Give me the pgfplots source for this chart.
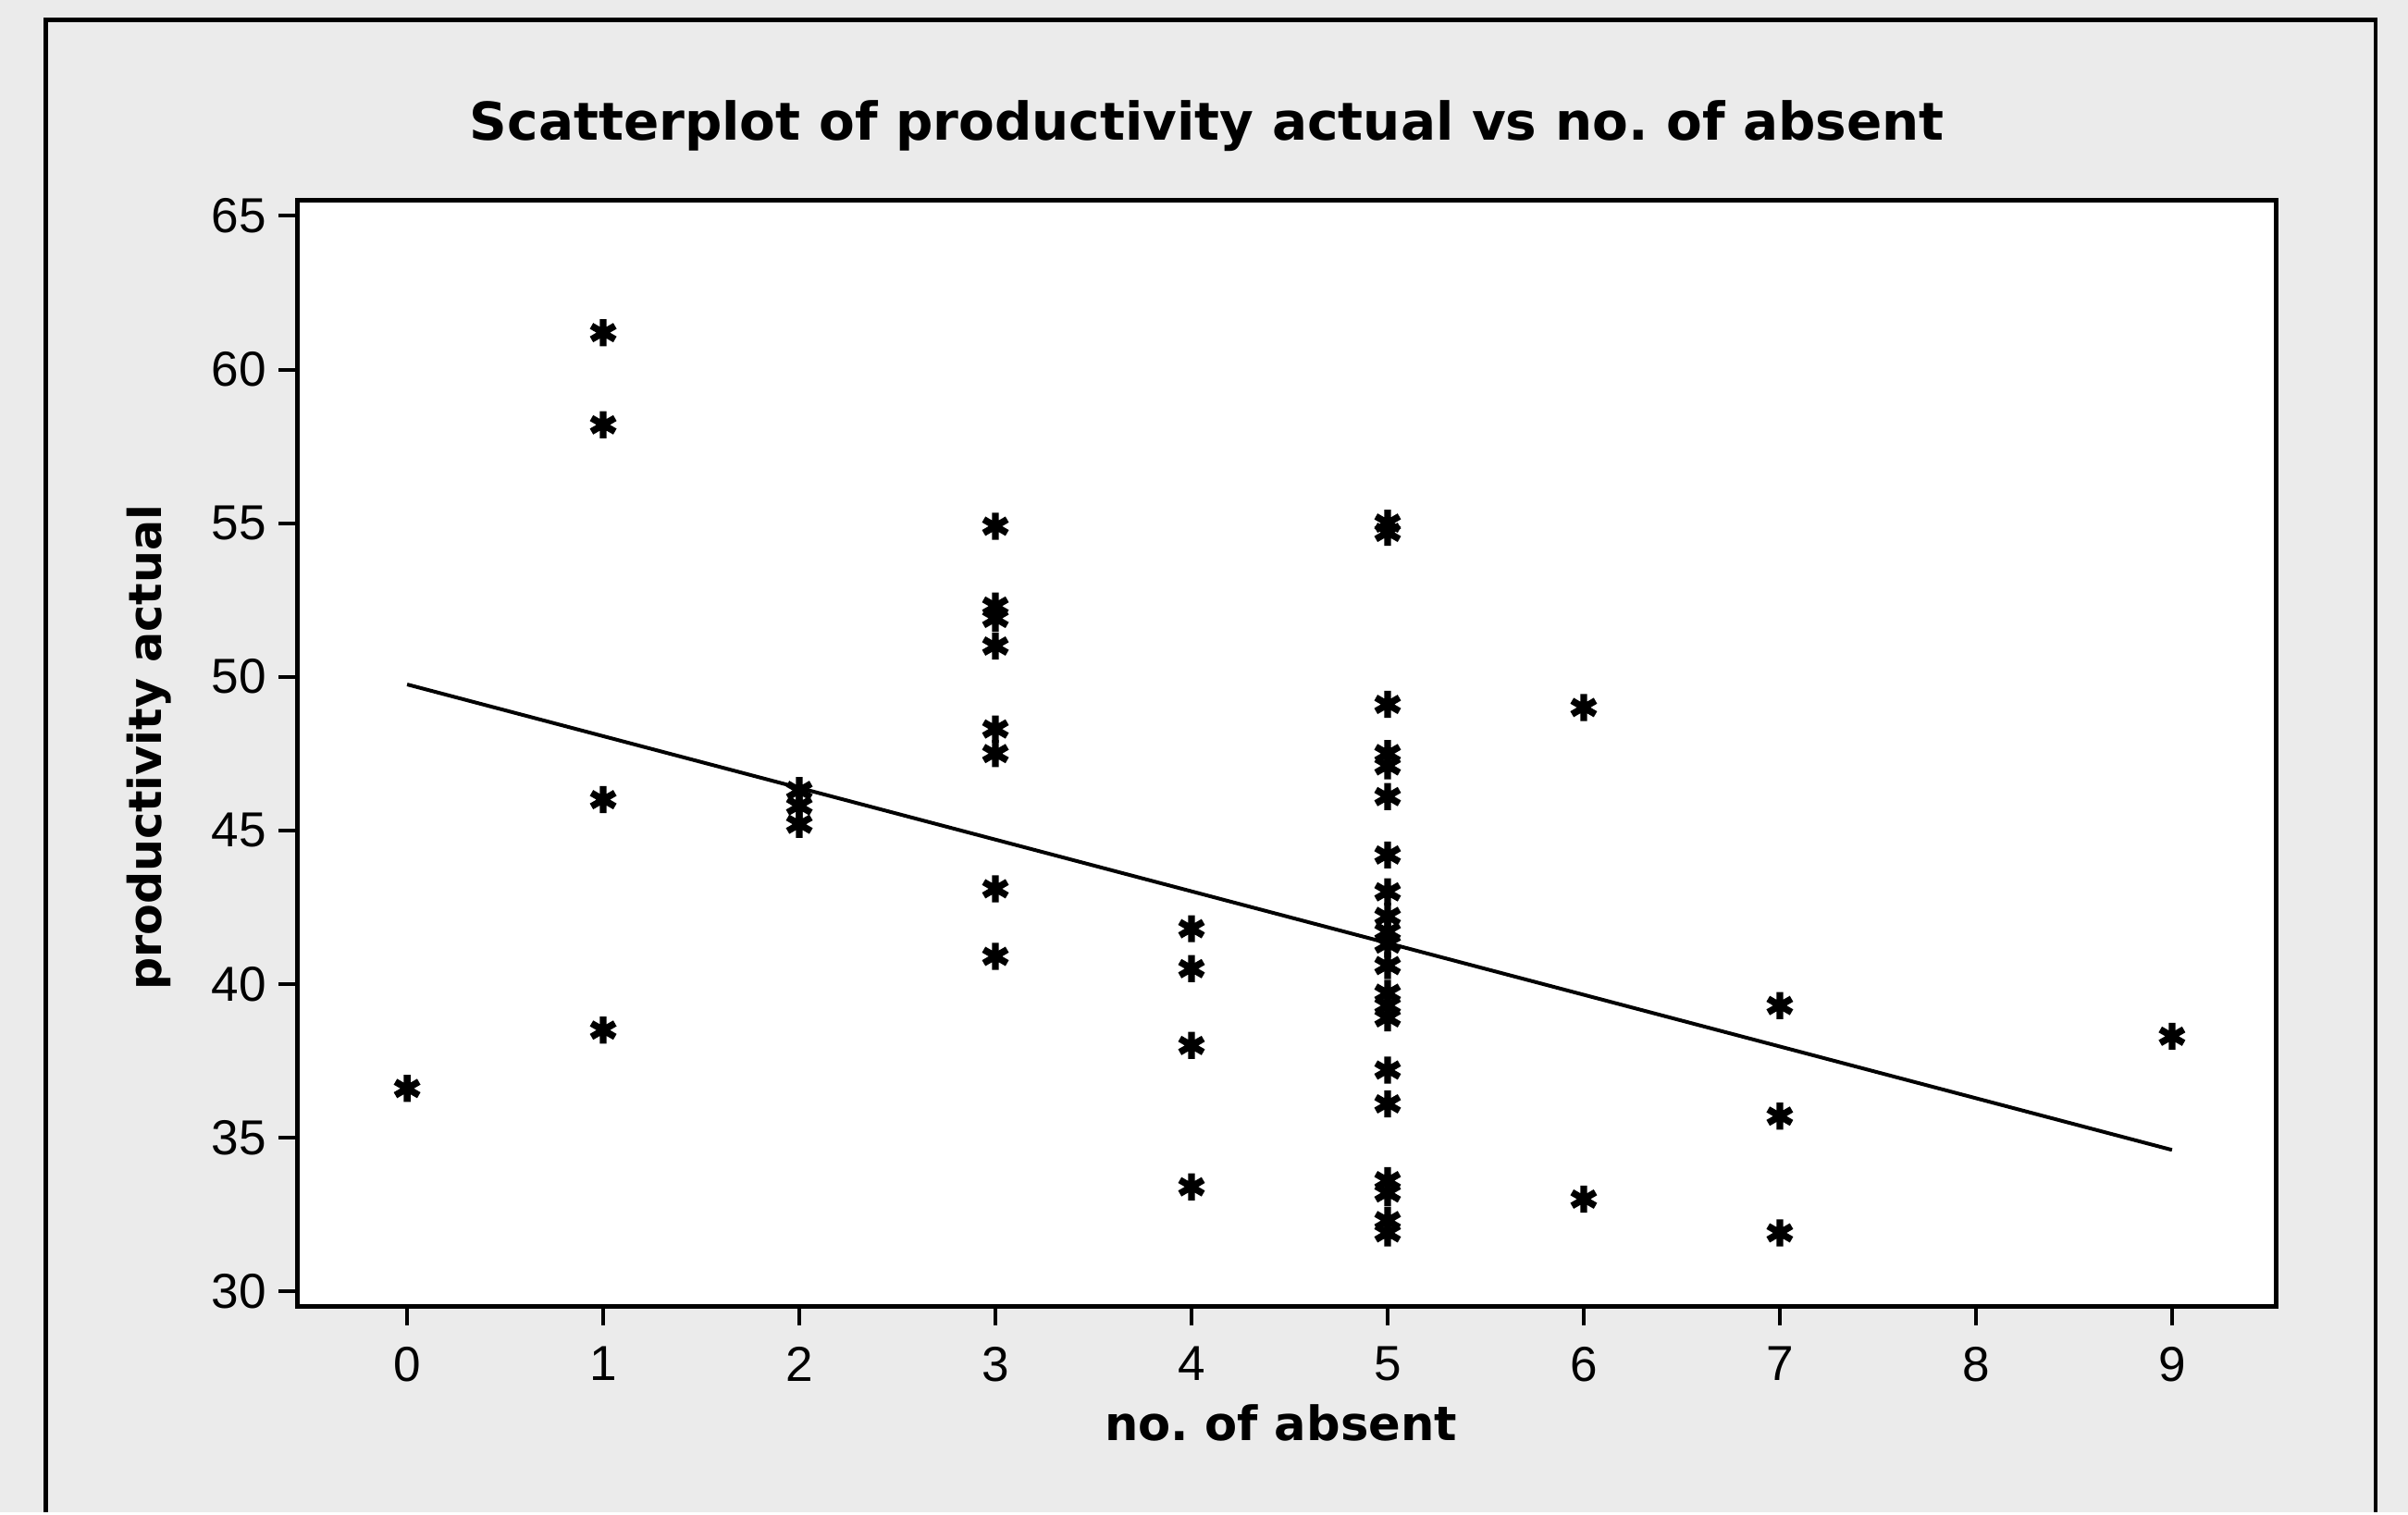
\documentclass[border=0pt]{standalone}
\usepackage{pgfplots}
\pgfplotsset{compat=1.18}
\usepackage{fontspec}
\setmainfont{Liberation Sans}
\newfontfamily\lblfont{DejaVu Sans}
\frenchspacing

\pgfplotstableread{
x y
0 36.6
1 61.2
1 58.2
1 46.0
1 38.5
2 46.3
2 45.8
2 45.2
3 54.9
3 52.3
3 51.9
3 51.0
3 48.3
3 47.5
3 43.1
3 40.9
4 41.8
4 40.5
4 38.0
4 33.4
5 55.0
5 54.7
5 49.1
5 47.5
5 47.1
5 46.1
5 44.2
5 43.0
5 42.2
5 41.7
5 41.3
5 40.6
5 39.7
5 39.3
5 38.9
5 37.2
5 36.1
5 33.6
5 33.2
5 32.3
5 31.9
6 49.0
6 33.0
7 39.3
7 35.7
7 31.9
9 38.3
}\absentdata

\begin{document}
\begin{tikzpicture}
\fill[black!8] (0,0) rectangle (392pt,246.25pt);
\draw[line width=0.7pt] (7.5pt,0) -- (7.5pt,243pt) -- (386.75pt,243pt) -- (386.75pt,0);
\begin{axis}[
  at={(48.4pt,33.5pt)}, anchor=south west,
  scale only axis, width=322.1pt, height=180.1pt,
  xmin=-0.56, xmax=9.53, ymin=29.5, ymax=65.5,
  xtick={0,1,...,9}, ytick={30,35,...,65},
  xtick pos=bottom, ytick pos=left,
  tick align=outside, major tick length=3pt,
  tick style={black, line width=0.6pt},
  axis line style={line width=0.7pt},
  axis background/.style={fill=white},
  tick label style={font=\fontsize{8}{9}\selectfont},
  yticklabel style={xshift=1.5pt},
  /pgf/number format/assume math mode=true,
  clip=false,
]
\addplot[only marks, mark=asterisk, mark size=2.2pt, line width=1.1pt, black] table[x=x,y=y] {\absentdata};
\addplot[black, line width=0.6pt] coordinates {(0,49.75) (9,34.6)};
\end{axis}
\node[font=\lblfont\bfseries\fontsize{8.5}{10}\selectfont, anchor=base] at (196.5pt,223.4pt) {Scatterplot of productivity actual vs no. of absent};
\node[font=\lblfont\bfseries\fontsize{7.7}{9}\selectfont, anchor=base] at (208.5pt,11.75pt) {no. of absent};
\node[font=\lblfont\bfseries\fontsize{7.4}{9}\selectfont, rotate=90] at (24.25pt,124.5pt) {productivity actual};
\end{tikzpicture}
\end{document}
